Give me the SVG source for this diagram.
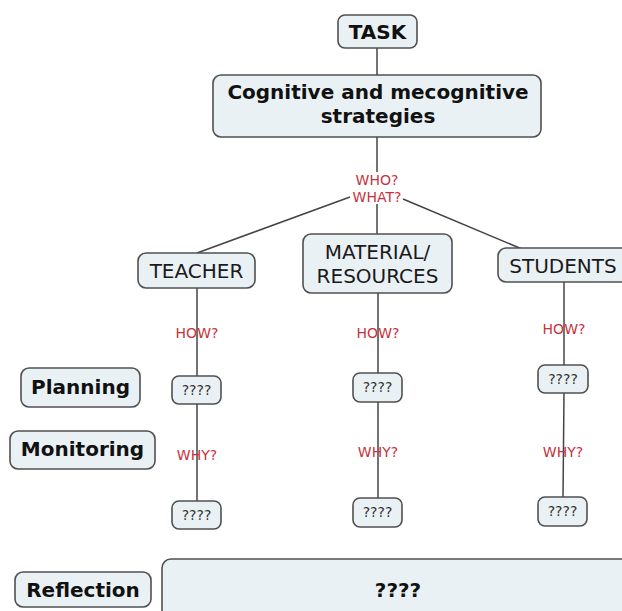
<svg xmlns="http://www.w3.org/2000/svg" width="622" height="611" viewBox="0 0 622 611">
<style>
.box{fill:#eaf1f4;stroke:#505050;stroke-width:1.6}
.conn line{stroke:#444;stroke-width:1.5}
.b{font-family:"DejaVu Sans",Verdana,sans-serif;font-weight:bold;font-size:20px;fill:#111;text-anchor:middle}
.n{font-family:"DejaVu Sans",Verdana,sans-serif;font-size:20px;fill:#1a1a1a;text-anchor:middle}
.q{font-family:"DejaVu Sans",Verdana,sans-serif;font-size:14px;fill:#333;text-anchor:middle}
.r{font-family:"DejaVu Sans",Verdana,sans-serif;font-size:14px;fill:#c8323c;text-anchor:middle}
</style>
<rect width="622" height="611" fill="#fff"/>
<g id="connectors" class="conn">
<line x1="377" y1="48" x2="377" y2="75"/>
<line x1="377" y1="137" x2="377" y2="172"/>
<line x1="377" y1="204" x2="377" y2="234"/>
<line x1="350" y1="197" x2="197" y2="253"/>
<line x1="403" y1="199" x2="522" y2="249"/>
<line x1="197" y1="288" x2="197" y2="376"/>
<line x1="197" y1="404" x2="197" y2="501"/>
<line x1="378" y1="293" x2="378" y2="373"/>
<line x1="378" y1="402" x2="378" y2="498"/>
<line x1="564" y1="282" x2="564" y2="365"/>
<line x1="564" y1="393" x2="563" y2="497"/>
</g>
<g id="labels">
<text class="r" x="377" y="185">WHO?</text>
<text class="r" x="377" y="202">WHAT?</text>
<text class="r" x="197" y="338">HOW?</text>
<text class="r" x="197" y="460">WHY?</text>
<text class="r" x="378" y="338">HOW?</text>
<text class="r" x="378" y="457">WHY?</text>
<text class="r" x="564" y="334">HOW?</text>
<text class="r" x="563" y="457">WHY?</text>
</g>
<g id="task"><rect class="box" x="338" y="15" width="79" height="33" rx="7"/><text class="b" x="377.5" y="39">TASK</text></g>
<g id="strategies"><rect class="box" x="213" y="75" width="328" height="62" rx="8"/><text class="b" x="378" y="99">Cognitive and mecognitive</text><text class="b" x="378" y="123">strategies</text></g>
<g id="teacher"><rect class="box" x="138" y="253" width="117" height="35" rx="8"/><text class="n" x="196.5" y="278">TEACHER</text></g>
<g id="material"><rect class="box" x="303" y="234" width="149" height="59" rx="8"/><text class="n" x="377.5" y="259">MATERIAL/</text><text class="n" x="377.5" y="283">RESOURCES</text></g>
<g id="students"><rect class="box" x="498" y="248" width="134" height="34" rx="8"/><text class="n" x="563" y="273">STUDENTS</text></g>
<g id="t1"><rect class="box" x="172" y="376" width="49" height="28" rx="7"/><text class="q" x="196.5" y="395">????</text></g>
<g id="t2"><rect class="box" x="172" y="501" width="49" height="28" rx="7"/><text class="q" x="196.5" y="520">????</text></g>
<g id="m1"><rect class="box" x="353" y="373" width="49" height="29" rx="7"/><text class="q" x="377.5" y="392">????</text></g>
<g id="m2"><rect class="box" x="353" y="498" width="49" height="29" rx="7"/><text class="q" x="377.5" y="517">????</text></g>
<g id="s1"><rect class="box" x="538" y="365" width="50" height="28" rx="7"/><text class="q" x="563" y="384">????</text></g>
<g id="s2"><rect class="box" x="538" y="497" width="49" height="29" rx="7"/><text class="q" x="562.5" y="516">????</text></g>
<g id="planning"><rect class="box" x="21" y="368" width="119" height="39" rx="8"/><text class="b" x="80.5" y="394">Planning</text></g>
<g id="monitoring"><rect class="box" x="10" y="431" width="145" height="38" rx="8"/><text class="b" x="82.5" y="456">Monitoring</text></g>
<g id="reflection"><rect class="box" x="15" y="572" width="136" height="35" rx="8"/><text class="b" x="83" y="597">Reflection</text></g>
<g id="reflection-box"><rect class="box" x="162" y="559" width="470" height="62" rx="9"/><text class="b" x="398" y="597">????</text></g>
</svg>
